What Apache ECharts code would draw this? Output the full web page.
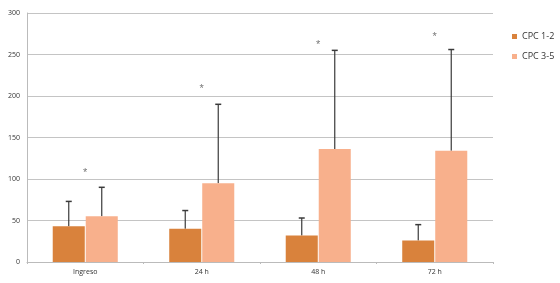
<!DOCTYPE html>
<html><head><meta charset="utf-8">
<script src="https://cdn.jsdelivr.net/npm/echarts@6/dist/echarts.min.js"></script>
<style>html,body{margin:0;padding:0;background:#fff}#c{width:560px;height:283px}</style>
</head><body><div id="c"></div>
<script>
var categories = ['Ingreso', '24 h', '48 h', '72 h'];
var seriesNames = ['CPC 1-2', 'CPC 3-5'];
var cpc12 = [43, 40, 32, 26];
var cpc12Err = [73, 62, 53, 45];
var cpc35 = [55, 95, 136, 134];
var cpc35Err = [90, 190, 255, 256];
var starPos = [107, 208, 261, 271];
var yTicks = [0, 50, 100, 150, 200, 250, 300];

var BAR_FRAC = 0.275, GAP = 0.03;
var chart = echarts.init(document.getElementById('c'));

function errSeries(vals, errs, sign) {
  return {
    type: 'custom', z: 1,
    data: vals.map(function (v, i) { return [i, v, errs[i]]; }),
    renderItem: function (params, api) {
      var cw = api.size([1, 0])[0];
      var off = sign * cw * BAR_FRAC * (1 + GAP) / 2;
      var lo = api.coord([api.value(0), api.value(1)]);
      var hi = api.coord([api.value(0), api.value(2)]);
      var x = lo[0] + off;
      var st = { stroke: '#3a3a3a', lineWidth: 1.2 };
      return { type: 'group', children: [
        { type: 'line', shape: { x1: x, y1: lo[1], x2: x, y2: hi[1] }, style: st },
        { type: 'line', shape: { x1: x - 3, y1: hi[1], x2: x + 3, y2: hi[1] }, style: { stroke: '#3a3a3a', lineWidth: 1.5 } }
      ]};
    }
  };
}

chart.setOption({
  animation: false,
  grid: { left: 27, right: 67, top: 13, bottom: 21 },
  legend: {
    orient: 'vertical', left: 507, top: 27, itemWidth: 5, itemHeight: 5, itemGap: 11,
    icon: 'rect',
    textStyle: { fontSize: 9, color: '#333', fontFamily: 'Open Sans' },
    data: seriesNames
  },
  xAxis: {
    type: 'category', data: categories,
    axisLine: { lineStyle: { color: '#bbb', width: 1 } },
    axisTick: { show: true, length: 2, lineStyle: { color: '#bbb' } },
    axisLabel: { fontSize: 7, color: '#333', margin: 6, fontFamily: 'Open Sans' }
  },
  yAxis: {
    type: 'value', min: 0, max: 300, interval: 50,
    axisLine: { show: true, lineStyle: { color: '#bbb', width: 1 } },
    axisTick: { show: false },
    splitLine: { lineStyle: { color: '#c4c4c4', width: 1 } },
    axisLabel: { fontSize: 7, color: '#333', margin: 7, fontFamily: 'Open Sans' }
  },
  series: [
    { name: seriesNames[0], type: 'bar', data: cpc12, barWidth: (BAR_FRAC * 100) + '%', barGap: (GAP * 100) + '%',
      itemStyle: { color: '#d9823c' }, z: 2 },
    { name: seriesNames[1], type: 'bar', data: cpc35, barWidth: (BAR_FRAC * 100) + '%',
      itemStyle: { color: '#f8b08c' }, z: 2 },
    errSeries(cpc12, cpc12Err, -1),
    errSeries(cpc35, cpc35Err, 1),
    { type: 'scatter', symbolSize: 0, data: starPos.map(function (v, i) { return [i, v]; }),
      label: { show: true, position: 'inside', formatter: '*', fontSize: 11, color: '#555' }, z: 3 }
  ]
});
</script></body></html>
